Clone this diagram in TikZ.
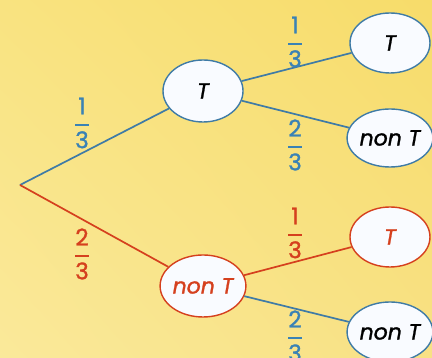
\documentclass[tikz,border=0pt]{standalone}
\usepackage{amsmath}
\usepackage{fontspec}
\setmainfont{Poppins}[FakeBold=1.2]
\usetikzlibrary{shapes.geometric,shadings}
\definecolor{bgA}{HTML}{F7DC6A}
\definecolor{bgB}{HTML}{FAE99A}
\definecolor{bgC}{HTML}{F9E380}
\definecolor{bgD}{HTML}{F8E184}
\definecolor{tblue}{HTML}{3F7BA6}
\definecolor{lblue}{HTML}{3A82B5}
\definecolor{tred}{HTML}{D5401E}
\definecolor{nodefill}{HTML}{F9FBFF}
\newcommand\fr[2]{$\genfrac{}{}{1.7pt}{0}{\textnormal{#1}}{\textnormal{#2}}$}
\tikzset{
  ev/.style={ellipse, draw=tblue, line width=1.4pt, fill=nodefill,
    minimum width=80pt, minimum height=60pt, inner sep=0pt,
    font=\fontsize{22}{26}\selectfont\itshape},
  evred/.style={ev, draw=tred, text=tred},
  br/.style={line width=1.7pt, draw=tblue},
  brred/.style={br, draw=tred},
  prob/.style={font=\fontsize{23}{26}\selectfont, text=lblue, inner sep=0pt},
  probred/.style={prob, text=tred}
}
\begin{document}
\begin{tikzpicture}[x=1pt,y=1pt]
\useasboundingbox (0,0) rectangle (432,358);
\clip (0,0) rectangle (432,358);
\shade[upper left=bgC, upper right=bgA, lower left=bgB, lower right=bgD] (0,0) rectangle (432,358);

\coordinate (root) at (20,173);
\node[ev, minimum height=62pt] (T1) at (203,267) {T};
\node[evred, minimum height=62pt] (N1) at (203,72) {non T};
\node[ev] (TT) at (390,315) {T};
\node[ev, minimum height=58pt] (TN) at (390,220) {non T};
\node[evred] (NT) at (390,121) {T};
\node[ev] (NN) at (390,26) {non T};

\draw[br] (root) -- (T1);
\draw[brred] (root) -- (N1);
\draw[br] (T1) -- (TT);
\draw[br] (T1) -- (TN);
\draw[brred] (N1) -- (NT);
\draw[br] (N1) -- (NN);

\node[prob] (p1) at (82,235) {\fr{1}{3}};
\node[probred] (p2) at (82,104) {\fr{2}{3}};
\node[prob] (p3) at (295,316) {\fr{1}{3}};
\node[prob] (p4) at (295,213) {\fr{2}{3}};
\node[probred] (p5) at (295,125) {\fr{1}{3}};
\node[prob] (p6) at (295,22) {\fr{2}{3}};
\end{tikzpicture}
\end{document}
